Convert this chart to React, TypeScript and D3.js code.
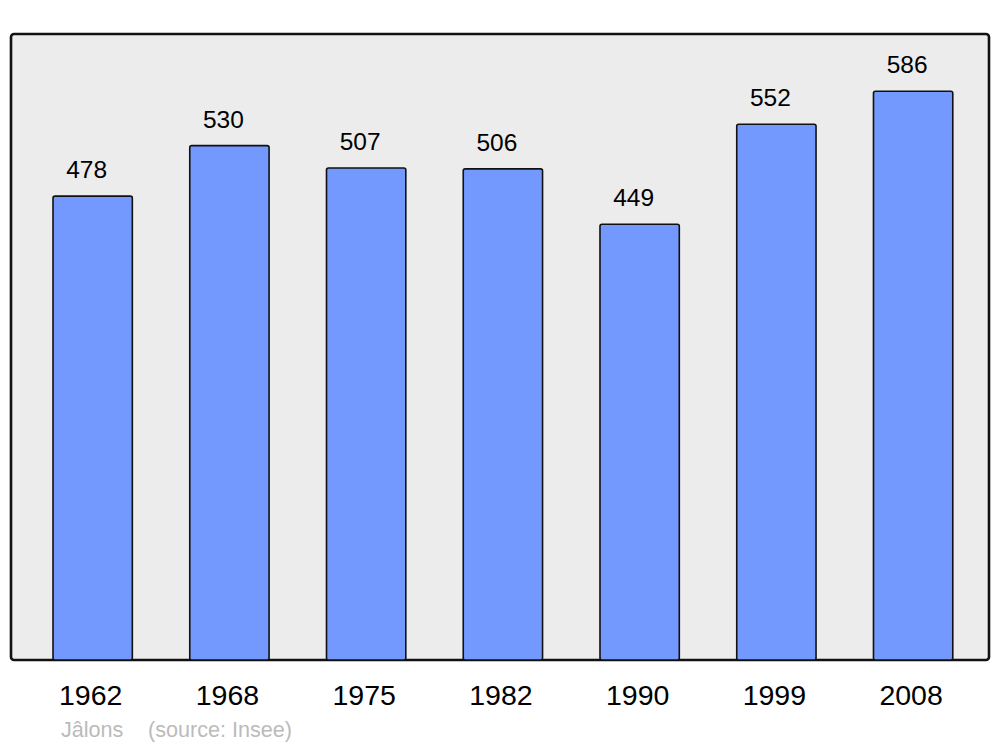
import React from 'react';
import * as d3 from 'd3';

const years = ['1962', '1968', '1975', '1982', '1990', '1999', '2008'];
const population = [478, 530, 507, 506, 449, 552, 586];

const App: React.FC = () => {
  const width = 1000;
  const height = 747;
  const panel = { x: 11, y: 34, w: 978, h: 626 };
  const base = panel.y + panel.h;

  const x = d3.scaleBand<string>()
    .domain(years)
    .range([24.3, 981.5])
    .paddingInner(0.42)
    .paddingOuter(0.21);

  const y = d3.scaleLinear()
    .domain([0, 645])
    .range([base, panel.y]);

  const font = 'Liberation Sans, Arial, sans-serif';

  return (
    <svg width={width} height={height} style={{ position: 'absolute', left: 0, top: 0, background: '#ffffff' }}>
      <rect x={panel.x} y={panel.y} width={panel.w} height={panel.h} rx={3} fill="#ececec" stroke="#111" strokeWidth={2.6} />
      {years.map((yr, i) => {
        const bx = x(yr)!;
        const top = y(population[i]);
        const cx = bx + x.bandwidth() / 2;
        return (
          <g key={yr}>
            <rect x={bx} y={top} width={x.bandwidth()} height={base - top} rx={2}
              fill="#7399ff" stroke="#111" strokeWidth={1.6} />
            <text x={cx - 6} y={top - 18} textAnchor="middle" fontFamily={font} fontSize={24.5} fill="#000">
              {population[i]}
            </text>
            <text x={cx - 2} y={705} textAnchor="middle" fontFamily={font} fontSize={28.5} fill="#000">
              {yr}
            </text>
          </g>
        );
      })}
      <text x={61} y={737} fontFamily={font} fontSize={21.6} fill="#bbbbbb">Jâlons</text>
      <text x={148} y={737} fontFamily={font} fontSize={21.6} fill="#bbbbbb">(source: Insee)</text>
    </svg>
  );
};

export default App;
